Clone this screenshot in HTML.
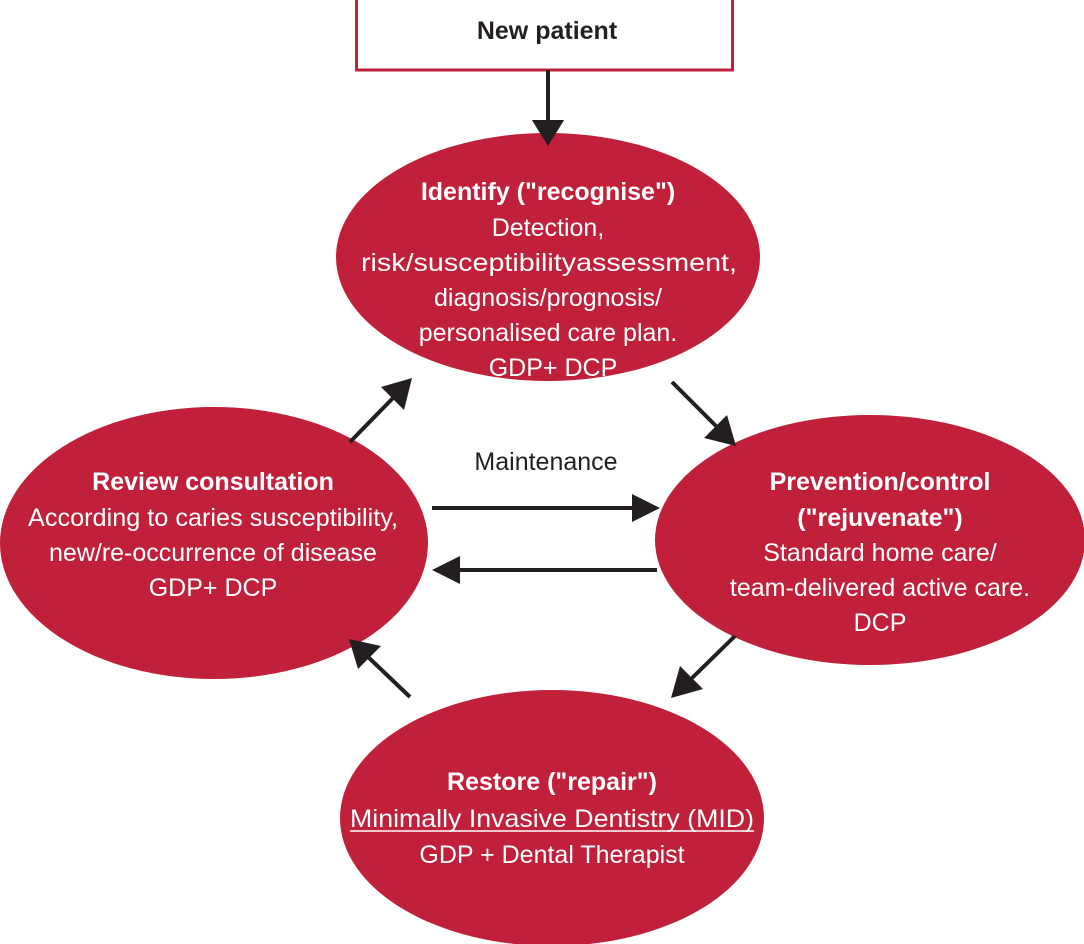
<!DOCTYPE html>
<html><head><meta charset="utf-8"><style>
html,body{margin:0;padding:0;background:#fff;}
svg{display:block;}
text{font-family:"Liberation Sans Narrow","Liberation Sans",sans-serif;font-size:25px;}
.w{fill:#fff;text-anchor:middle;}
.b{font-weight:bold;}
</style></head><body>
<svg width="1084" height="944" viewBox="0 0 1084 944" xmlns="http://www.w3.org/2000/svg">
<rect x="356.5" y="-2" width="376" height="72" fill="#fff" stroke="#c0203a" stroke-width="3"/>
<text x="547" y="39" text-anchor="middle" class="b" fill="#231f20">New patient</text>
<line x1="548" y1="70" x2="548" y2="120" stroke="#231f20" stroke-width="4"/>
<path d="M532,120 L564,120 L548,146 z" fill="#231f20"/>

<ellipse cx="548" cy="257" rx="212" ry="124" fill="#c0203a"/>
<ellipse cx="214" cy="543" rx="214" ry="136" fill="#c0203a"/>
<ellipse cx="870" cy="540" rx="215" ry="125" fill="#c0203a"/>
<ellipse cx="552" cy="818" rx="212" ry="128" fill="#c0203a"/>
<path d="M532,120 L564,120 L548,146 z" fill="#231f20"/>

<g stroke="#231f20" stroke-width="4">
<line x1="350" y1="442" x2="395" y2="396"/>
<line x1="672" y1="382" x2="718" y2="428"/>
<line x1="735" y1="636" x2="690" y2="680"/>
<line x1="410" y1="697" x2="366" y2="655"/>
<line x1="432" y1="508" x2="635" y2="508"/>
<line x1="657" y1="570" x2="456" y2="570"/>
</g>
<g fill="#231f20">
<path d="M412,378 L404,410 L381,387 z"/>
<path d="M736,446 L704,438 L727,415 z"/>
<path d="M671,698 L680,666 L703,689 z"/>
<path d="M349,639 L381,646 L358,669 z"/>
<path d="M660,508 L632,494 L632,522 z"/>
<path d="M432,570 L460,556 L460,584 z"/>
</g>
<text x="546" y="470" text-anchor="middle" fill="#231f20">Maintenance</text>

<text class="w b" x="548" y="200">Identify ("recognise")</text>
<text class="w" x="548" y="236">Detection,</text>
<text class="w" x="549" y="271" textLength="376" lengthAdjust="spacingAndGlyphs">risk/susceptibilityassessment,</text>
<text class="w" x="548" y="306">diagnosis/prognosis/</text>
<text class="w" x="548" y="341">personalised care plan.</text>
<text class="w" x="553" y="376">GDP+ DCP</text>

<text class="w b" x="213" y="490">Review consultation</text>
<text class="w" x="213" y="526" textLength="370" lengthAdjust="spacingAndGlyphs">According to caries susceptibility,</text>
<text class="w" x="213" y="561">new/re-occurrence of disease</text>
<text class="w" x="213" y="596">GDP+ DCP</text>

<text class="w b" x="880" y="490">Prevention/control</text>
<text class="w b" x="880" y="526">("rejuvenate")</text>
<text class="w" x="880" y="561">Standard home care/</text>
<text class="w" x="880" y="596">team-delivered active care.</text>
<text class="w" x="880" y="631">DCP</text>

<text class="w b" x="552" y="790">Restore ("repair")</text>
<text class="w" x="552" y="827" textLength="404" lengthAdjust="spacingAndGlyphs">Minimally Invasive Dentistry (MID)</text>
<line x1="350" y1="831" x2="754" y2="831" stroke="#fff" stroke-width="1.5"/>
<text class="w" x="552" y="863">GDP + Dental Therapist</text>
</svg>
</body></html>
